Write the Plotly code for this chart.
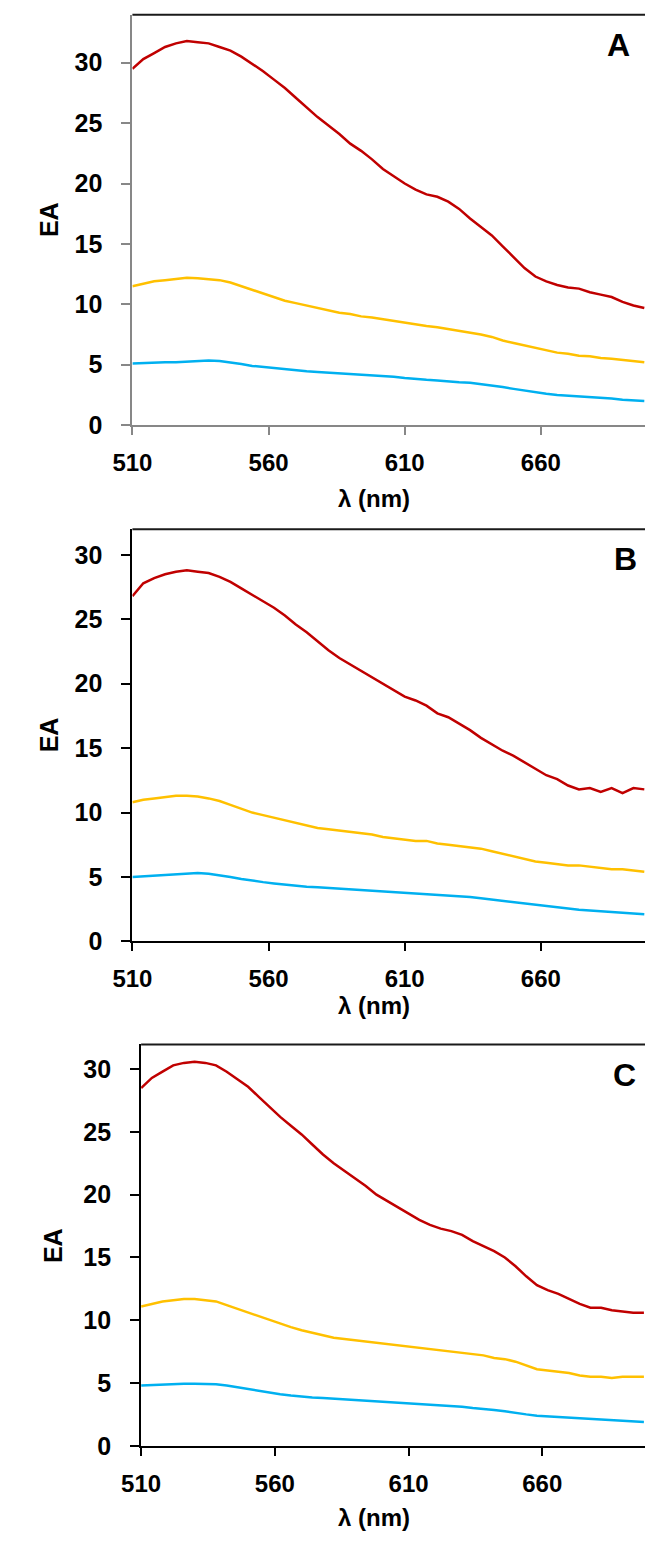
import plotly.graph_objects as go

# wavelength grid (nm)
wl = list(range(510, 702, 4))

# Panel A
a_red = [29.5, 30.3, 30.8, 31.3, 31.6, 31.8, 31.7, 31.6,
         31.3, 31.0, 30.5, 29.9, 29.3, 28.6, 27.9, 27.1,
         26.3, 25.5, 24.8, 24.1, 23.3, 22.7, 22.0, 21.2,
         20.6, 20.0, 19.5, 19.1, 18.9, 18.5, 17.9, 17.1,
         16.4, 15.7, 14.8, 13.9, 13.0, 12.3, 11.9, 11.6,
         11.4, 11.3, 11.0, 10.8, 10.6, 10.2, 9.9, 9.7]
a_yel = [11.5, 11.7, 11.9, 12.0, 12.1, 12.2, 12.15, 12.1,
         12.0, 11.8, 11.5, 11.2, 10.9, 10.6, 10.3, 10.1,
         9.9, 9.7, 9.5, 9.3, 9.2, 9.0, 8.9, 8.75,
         8.6, 8.5, 8.35, 8.2, 8.1, 7.95, 7.8, 7.7,
         7.5, 7.3, 7.0, 6.8, 6.6, 6.4, 6.2, 6.0,
         5.9, 5.75, 5.7, 5.55, 5.5, 5.4, 5.3, 5.2]
a_blu = [5.1, 5.15, 5.15, 5.2, 5.2, 5.25, 5.3, 5.35,
         5.3, 5.2, 5.05, 4.9, 4.8, 4.7, 4.6, 4.5,
         4.45, 4.4, 4.35, 4.3, 4.25, 4.2, 4.15, 4.05,
         4.0, 3.9, 3.8, 3.75, 3.7, 3.6, 3.55, 3.5,
         3.4, 3.3, 3.15, 3.0, 2.85, 2.7, 2.6, 2.5,
         2.45, 2.35, 2.3, 2.25, 2.2, 2.1, 2.05, 2.0]

# Panel B
b_red = [26.8, 27.8, 28.2, 28.5, 28.7, 28.8, 28.7, 28.6,
         28.3, 27.9, 27.4, 26.9, 26.4, 25.9, 25.3, 24.6,
         24.0, 23.3, 22.6, 22.0, 21.5, 21.0, 20.5, 20.0,
         19.5, 19.0, 18.7, 18.3, 17.7, 17.4, 16.9, 16.4,
         15.8, 15.3, 14.8, 14.4, 13.9, 13.4, 12.9, 12.6,
         12.1, 11.8, 11.9, 11.6, 11.9, 11.5, 11.9, 11.8]
b_yel = [10.8, 11.0, 11.1, 11.2, 11.3, 11.3, 11.25, 11.1,
         10.9, 10.6, 10.3, 10.0, 9.8, 9.6, 9.4, 9.2,
         9.0, 8.8, 8.7, 8.6, 8.5, 8.4, 8.3, 8.1,
         8.0, 7.9, 7.8, 7.8, 7.6, 7.5, 7.4, 7.3,
         7.2, 7.0, 6.8, 6.6, 6.4, 6.2, 6.1, 6.0,
         5.9, 5.9, 5.8, 5.7, 5.6, 5.6, 5.5, 5.4]
b_blu = [5.0, 5.05, 5.1, 5.15, 5.25, 5.3, 5.3, 5.25,
         5.15, 5.0, 4.85, 4.7, 4.6, 4.5, 4.4, 4.3,
         4.25, 4.2, 4.15, 4.1, 4.05, 4.0, 3.95, 3.9,
         3.85, 3.8, 3.7, 3.65, 3.6, 3.55, 3.5, 3.45,
         3.35, 3.25, 3.15, 3.05, 2.95, 2.8, 2.7, 2.6,
         2.5, 2.45, 2.4, 2.35, 2.3, 2.2, 2.15, 2.1]

# Panel C
c_red = [28.5, 29.3, 29.8, 30.3, 30.5, 30.6, 30.5, 30.3,
         29.8, 29.2, 28.6, 27.8, 27.0, 26.2, 25.5, 24.8,
         24.0, 23.2, 22.5, 21.9, 21.3, 20.7, 20.0, 19.5,
         19.0, 18.5, 18.0, 17.6, 17.3, 17.1, 16.8, 16.3,
         15.9, 15.5, 15.0, 14.3, 13.5, 12.8, 12.4, 12.1,
         11.7, 11.3, 11.0, 11.0, 10.8, 10.7, 10.6, 10.6]
c_yel = [11.1, 11.3, 11.5, 11.6, 11.7, 11.7, 11.6, 11.5,
         11.2, 10.9, 10.6, 10.3, 10.0, 9.7, 9.45, 9.2,
         9.0, 8.8, 8.6, 8.5, 8.4, 8.3, 8.2, 8.1,
         8.0, 7.9, 7.8, 7.7, 7.6, 7.5, 7.4, 7.3,
         7.2, 7.0, 6.9, 6.7, 6.4, 6.1, 6.0, 5.9,
         5.8, 5.6, 5.5, 5.5, 5.4, 5.5, 5.5, 5.5]
c_blu = [4.8, 4.85, 4.9, 4.9, 4.95, 4.95, 4.95, 4.9,
         4.8, 4.65, 4.5, 4.35, 4.2, 4.1, 4.0, 3.9,
         3.85, 3.8, 3.75, 3.7, 3.65, 3.6, 3.5, 3.45,
         3.4, 3.35, 3.3, 3.25, 3.2, 3.15, 3.1, 3.0,
         2.95, 2.85, 2.75, 2.6, 2.5, 2.4, 2.35, 2.3,
         2.2, 2.15, 2.1, 2.05, 2.0, 1.95, 1.9, 1.9]

x_ticks = [510, 560, 610, 660]
y_ticks = [0, 5, 10, 15, 20, 25, 30]
panel_labels = ["A", "B", "C"]
colors = ["#C00000", "#FFC000", "#00B0F0"]

W, H = 645, 1544
FONT = "Liberation Sans, Arial, sans-serif"

panels = [
    dict(left=116, top=15, bottom=429, ymax=33.96, axc="#878787", lab_y=45, lab_x=618,
         xt_y=503, ea_x=30),
    dict(left=116, top=534, bottom=950, ymax=32.0, axc="#000000", lab_y=564, lab_x=625,
         xt_y=1015, ea_x=30),
    dict(left=125, top=1054, bottom=1459, ymax=31.97, axc="#000000", lab_y=1085, lab_x=624,
         xt_y=1531, ea_x=34),
]
data = [(a_red, a_yel, a_blu), (b_red, b_yel, b_blu), (c_red, c_yel, c_blu)]

fig = go.Figure()
annotations = []
shapes = []
for i, (p, series) in enumerate(zip(panels, data)):
    n = i + 1
    xa = "x" if n == 1 else f"x{n}"
    ya = "y" if n == 1 else f"y{n}"
    for s, c in zip(series, colors):
        m = min(len(wl), len(s))
        fig.add_trace(go.Scatter(x=wl[:m], y=s[:m], mode="lines",
                                 line=dict(color=c, width=2.5),
                                 xaxis=xa, yaxis=ya, showlegend=False,
                                 hoverinfo="skip"))
    xr = 510 + (W - p["left"]) / (2.81 if n < 3 else 2.76)
    fig.layout[f"xaxis{'' if n == 1 else n}"] = dict(
        domain=[p["left"] / W, 1], anchor=ya, range=[510, xr],
        tickvals=x_ticks, ticks="outside", ticklen=8, tickwidth=2, tickcolor=p["axc"],
        showline=True, linecolor=p["axc"], linewidth=2, showgrid=False, zeroline=False,
        tickfont=dict(family=FONT, size=24, color="black", weight="bold"),
        ticklabelstandoff=7,
    )
    fig.layout[f"yaxis{'' if n == 1 else n}"] = dict(
        domain=[1 - p["bottom"] / H, 1 - p["top"] / H], anchor=xa, range=[0, p["ymax"]],
        tickvals=y_ticks, ticks="outside", ticklen=9, tickwidth=2, tickcolor=p["axc"],
        showline=True, linecolor=p["axc"], linewidth=2, showgrid=False, zeroline=False,
        tickfont=dict(family=FONT, size=25, color="black", weight="bold"),
        ticklabelstandoff=14,
    )
    shapes.append(dict(type="line", xref=f"{xa} domain", yref=f"{ya} domain",
                       x0=0, x1=1, y0=1, y1=1, line=dict(color="#1a1a1a", width=2)))
    annotations.append(dict(text=panel_labels[i], xref="paper", yref="paper",
                            x=p["lab_x"] / W, y=1 - p["lab_y"] / H, showarrow=False,
                            xanchor="center", yanchor="middle",
                            font=dict(family=FONT, size=32, color="black", weight="bold")))
    annotations.append(dict(text="λ (nm)", xref="paper", yref="paper",
                            x=365 / W, y=1 - p["xt_y"] / H, showarrow=False,
                            xanchor="center", yanchor="middle",
                            font=dict(family=FONT, size=24, color="black", weight="bold")))
    annotations.append(dict(text="EA", xref="paper", yref="paper", textangle=-90,
                            x=p["ea_x"] / W, y=1 - (p["top"] + p["bottom"]) / 2 / H,
                            showarrow=False, xanchor="center", yanchor="middle",
                            font=dict(family=FONT, size=25, color="black", weight="bold")))

fig.update_layout(width=W, height=H, margin=dict(l=0, r=0, t=0, b=0),
                  paper_bgcolor="white", plot_bgcolor="white",
                  annotations=annotations, shapes=shapes, hovermode=False)
fig.write_html("out.html", config={"displayModeBar": False},
               post_script="document.body.style.margin='0px';"
                           "document.body.style.overflow='hidden';")
